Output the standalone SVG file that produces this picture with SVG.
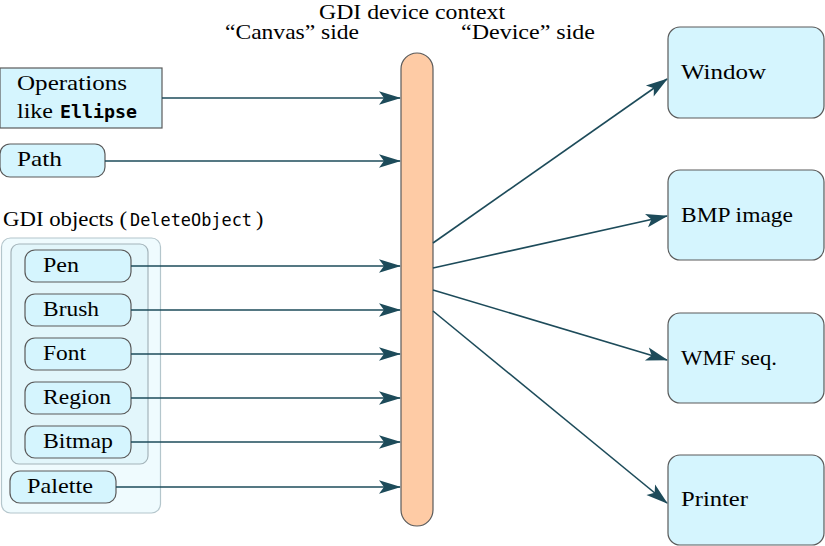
<svg xmlns="http://www.w3.org/2000/svg" width="825" height="546" viewBox="0 0 825 546">
<style>
.box{fill:#d5f5fe;stroke:#5a5a5a;stroke-width:1.2}
.outer{fill:#effbfe;stroke:#b4c6cc;stroke-width:1.2}
.inner{fill:#e2f6fb;stroke:#a4b4ba;stroke-width:1.2}
.bar{fill:#fecba5;stroke:#5a5a5a;stroke-width:1.2}
.conn{stroke:#1d4b5a;stroke-width:1.6;fill:none;marker-end:url(#ah)}
</style>
<defs>
<marker id="ah" markerUnits="userSpaceOnUse" markerWidth="24" markerHeight="16" refX="21" refY="8" orient="auto" overflow="visible">
<path d="M22,8 L0,1.2 L5,8 L0,14.8 Z" fill="#1d4b5a"/>
</marker>
</defs>
<rect width="825" height="546" fill="#fff"/>

<g id="titles">
<text font-family="Liberation Serif" font-size="22" x="319" y="18.5" textLength="186" lengthAdjust="spacingAndGlyphs">GDI device context</text>
<text font-family="Liberation Serif" font-size="22" x="225" y="39" textLength="134" lengthAdjust="spacingAndGlyphs">“Canvas” side</text>
<text font-family="Liberation Serif" font-size="22" x="461" y="39" textLength="134" lengthAdjust="spacingAndGlyphs">“Device” side</text>
</g>

<g id="dc">
<rect class="bar" x="401" y="53" width="32" height="473" rx="16"/>
</g>

<g id="operations">
<rect class="box" x="0" y="68" width="162" height="60"/>
<text font-family="Liberation Serif" font-size="22" x="17" y="90" textLength="110" lengthAdjust="spacingAndGlyphs">Operations</text>
<text font-family="Liberation Serif" font-size="22" x="17" y="118" textLength="36" lengthAdjust="spacingAndGlyphs">like</text>
<text font-family="DejaVu Sans Mono" font-size="17.5" font-weight="bold" x="60" y="118" textLength="77" lengthAdjust="spacingAndGlyphs">Ellipse</text>
</g>

<g id="path-node">
<rect class="box" x="0" y="144" width="105" height="33" rx="10"/>
<text font-family="Liberation Serif" font-size="22" x="17" y="166" textLength="45" lengthAdjust="spacingAndGlyphs">Path</text>
</g>

<g id="gdi-objects">
<text font-family="Liberation Serif" font-size="22" x="3" y="226" textLength="124" lengthAdjust="spacingAndGlyphs">GDI objects (</text>
<text font-family="DejaVu Sans Mono" font-size="17.5" x="130" y="226" textLength="122" lengthAdjust="spacingAndGlyphs">DeleteObject</text>
<text font-family="Liberation Serif" font-size="22" x="256" y="226">)</text>
<rect class="outer" x="1.5" y="238" width="159" height="275" rx="9"/>
<rect class="inner" x="11" y="244" width="137" height="220" rx="8"/>
</g>

<g id="pen-node">
<rect class="box" x="25" y="250" width="106" height="32" rx="10"/>
<text font-family="Liberation Serif" font-size="22" x="43" y="272" textLength="36" lengthAdjust="spacingAndGlyphs">Pen</text>
</g>
<g id="brush-node">
<rect class="box" x="25" y="294" width="106" height="32" rx="10"/>
<text font-family="Liberation Serif" font-size="22" x="43" y="316" textLength="56" lengthAdjust="spacingAndGlyphs">Brush</text>
</g>
<g id="font-node">
<rect class="box" x="25" y="338" width="106" height="32" rx="10"/>
<text font-family="Liberation Serif" font-size="22" x="43" y="360" textLength="43" lengthAdjust="spacingAndGlyphs">Font</text>
</g>
<g id="region-node">
<rect class="box" x="25" y="382" width="106" height="32" rx="10"/>
<text font-family="Liberation Serif" font-size="22" x="43" y="404" textLength="68" lengthAdjust="spacingAndGlyphs">Region</text>
</g>
<g id="bitmap-node">
<rect class="box" x="25" y="426" width="106" height="32" rx="10"/>
<text font-family="Liberation Serif" font-size="22" x="43" y="448" textLength="70" lengthAdjust="spacingAndGlyphs">Bitmap</text>
</g>
<g id="palette-node">
<rect class="box" x="10" y="471" width="106" height="32" rx="10"/>
<text font-family="Liberation Serif" font-size="22" x="27" y="493" textLength="66" lengthAdjust="spacingAndGlyphs">Palette</text>
</g>

<g id="window-node">
<rect class="box" x="668" y="27" width="156" height="91" rx="12"/>
<text font-family="Liberation Serif" font-size="22" x="681" y="79" textLength="85" lengthAdjust="spacingAndGlyphs">Window</text>
</g>
<g id="bmp-node">
<rect class="box" x="668" y="170" width="156" height="90" rx="12"/>
<text font-family="Liberation Serif" font-size="22" x="681" y="222" textLength="112" lengthAdjust="spacingAndGlyphs">BMP image</text>
</g>
<g id="wmf-node">
<rect class="box" x="668" y="313" width="156" height="90" rx="12"/>
<text font-family="Liberation Serif" font-size="22" x="681" y="365" textLength="96" lengthAdjust="spacingAndGlyphs">WMF seq.</text>
</g>
<g id="printer-node">
<rect class="box" x="668" y="455" width="156" height="90" rx="12"/>
<text font-family="Liberation Serif" font-size="22" x="681" y="506" textLength="67" lengthAdjust="spacingAndGlyphs">Printer</text>
</g>

<g id="connectors">
<line class="conn" x1="162" y1="98" x2="400" y2="98"/>
<line class="conn" x1="105" y1="161" x2="400" y2="161"/>
<line class="conn" x1="131" y1="266" x2="400" y2="266"/>
<line class="conn" x1="131" y1="310" x2="400" y2="310"/>
<line class="conn" x1="131" y1="354" x2="400" y2="354"/>
<line class="conn" x1="131" y1="398" x2="400" y2="398"/>
<line class="conn" x1="131" y1="442" x2="400" y2="442"/>
<line class="conn" x1="116" y1="487" x2="400" y2="487"/>
<line class="conn" x1="433" y1="243" x2="667" y2="79"/>
<line class="conn" x1="433" y1="268" x2="667" y2="216"/>
<line class="conn" x1="433" y1="290" x2="667" y2="360"/>
<line class="conn" x1="433" y1="311" x2="667" y2="503"/>
</g>
</svg>
